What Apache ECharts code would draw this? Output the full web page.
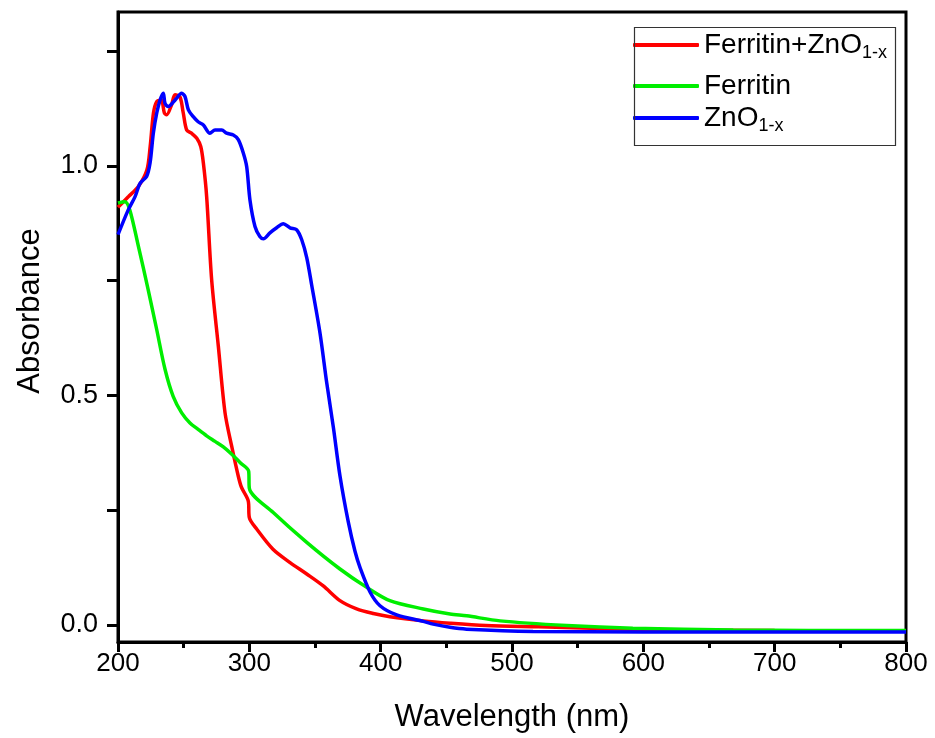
<!DOCTYPE html>
<html>
<head>
<meta charset="utf-8">
<script src="https://cdn.jsdelivr.net/npm/echarts@6/dist/echarts.min.js"></script>
<style>html,body{margin:0;padding:0;background:#fff}#c{width:935px;height:738px}</style>
</head>
<body>
<div id="c"></div>
<script>
// ---------- data ----------
var seriesNames = ['Ferritin+ZnO1-x', 'Ferritin', 'ZnO1-x'];

var redX = [200, 208, 215.5, 222, 224.5, 227, 229.5, 233, 235.3, 237, 240.8, 243.4, 247.2, 249.7, 252.3, 256, 260, 263, 265, 267.5, 271.3, 276.4, 281.5, 286.6, 291.6, 294, 299.2, 300, 305.6, 318, 331, 343.7, 356.3, 369, 381.7, 394.4, 407, 432.5, 452.8, 480, 520, 560, 600, 700, 800];
var redY = [0.91, 0.933, 0.955, 0.991, 1.042, 1.115, 1.14, 1.143, 1.115, 1.111, 1.133, 1.155, 1.15, 1.115, 1.078, 1.071, 1.06, 1.042, 1.006, 0.933, 0.752, 0.607, 0.462, 0.389, 0.324, 0.30, 0.27, 0.234, 0.209, 0.165, 0.136, 0.111, 0.085, 0.053, 0.035, 0.025, 0.018, 0.009, 0.004, -0.001, -0.004, -0.007, -0.010, -0.012, -0.013];

var greenX = [200, 205.3, 209, 215.5, 223, 229.5, 235.8, 242, 248.5, 254.8, 261, 267.5, 273.9, 280.2, 286.6, 292.9, 299.5, 300, 318.2, 343.7, 369, 389.4, 407, 432.5, 452.8, 465.5, 490.9, 541.6, 592, 668.5, 800];
var greenY = [0.919, 0.922, 0.904, 0.825, 0.73, 0.643, 0.557, 0.498, 0.462, 0.44, 0.426, 0.412, 0.40, 0.388, 0.372, 0.354, 0.335, 0.298, 0.245, 0.18, 0.122, 0.082, 0.053, 0.035, 0.024, 0.02, 0.009, -0.001, -0.007, -0.011, -0.012];

var blueX = [200, 207.8, 213, 216.8, 221.8, 224.4, 226.9, 229.5, 232, 234.5, 235.8, 238.3, 243.4, 248.5, 251, 253.6, 257.3, 261, 265, 270, 273.9, 279, 282.7, 287.8, 291.6, 295.4, 298, 300.5, 304.3, 308, 310.7, 315.7, 320.8, 325.9, 331, 336, 339.9, 343.7, 347.5, 353.8, 358.9, 364, 369, 375.3, 380.5, 384.3, 391.9, 399.5, 412.2, 432.5, 440, 452.8, 465.5, 516, 600, 700, 800];
var blueY = [0.85, 0.904, 0.933, 0.962, 0.977, 1.006, 1.071, 1.115, 1.143, 1.158, 1.136, 1.129, 1.143, 1.158, 1.151, 1.122, 1.107, 1.096, 1.089, 1.071, 1.078, 1.078, 1.071, 1.067, 1.057, 1.028, 0.998, 0.925, 0.868, 0.846, 0.841, 0.854, 0.865, 0.874, 0.865, 0.861, 0.839, 0.80, 0.74, 0.636, 0.528, 0.43, 0.325, 0.225, 0.16, 0.125, 0.072, 0.042, 0.022, 0.008, 0.002, -0.005, -0.009, -0.014, -0.015, -0.015, -0.015];

var yTickValues = [0, 0.25, 0.5, 0.75, 1.0, 1.25];
var yLabelValues = [0, 0.5, 1.0];

// ---------- chart ----------
function pairs(xs, ys) { return xs.map(function (x, i) { return [x, ys[i]]; }); }
var colors = ['#ff0000', '#00ee00', '#0000ff'];
var FONT = 'Liberation Sans, Arial, sans-serif';

function legendItem(name, top) {
  return {
    data: [name], orient: 'vertical', left: 633, top: top,
    icon: 'roundRect', itemWidth: 66, itemHeight: 4, itemGap: 0,
    padding: 0,
    selectedMode: false,
    formatter: function (n) { return n.replace('1-x', '{sub|1-x}'); },
    textStyle: {
      fontFamily: FONT, fontSize: 28, color: '#000', padding: [0, 0, 0, 0],
      rich: { sub: { fontFamily: FONT, fontSize: 18, color: '#000', padding: [16, 0, 0, 0] } }
    }
  };
}

var chart = echarts.init(document.getElementById('c'), null, { renderer: 'canvas' });
chart.setOption({
  animation: false,
  backgroundColor: '#fff',
  grid: { left: 118, right: 29, top: 12, bottom: 96, show: true, borderColor: '#000', borderWidth: 3, backgroundColor: 'transparent' },
  legend: [legendItem(seriesNames[0], 31), legendItem(seriesNames[1], 72), legendItem(seriesNames[2], 104)],
  graphic: [{
    type: 'rect', left: 632, top: 25, z: 10,
    shape: { width: 261, height: 118 },
    style: { fill: 'none', stroke: '#333', lineWidth: 1.2 }
  }],
  xAxis: {
    type: 'value', min: 200, max: 800, interval: 100,
    name: 'Wavelength (nm)', nameLocation: 'middle', nameGap: 60,
    nameTextStyle: { fontFamily: FONT, fontSize: 31, color: '#000' },
    axisLine: { show: true, onZero: false, lineStyle: { color: '#000', width: 3 } },
    axisTick: { show: true, length: 10, lineStyle: { color: '#000', width: 3 } },
    minorTick: { show: true, splitNumber: 2, length: 6, lineStyle: { color: '#000', width: 3 } },
    splitLine: { show: false },
    axisLabel: { fontFamily: FONT, fontSize: 26, color: '#000', margin: 9 }
  },
  yAxis: {
    type: 'value', min: -0.037, max: 1.335,
    name: 'Absorbance', nameLocation: 'middle', nameGap: 72,
    nameTextStyle: { fontFamily: FONT, fontSize: 31, color: '#000', padding: [0, 0, 0, 32] },
    axisLine: { show: true, onZero: false, lineStyle: { color: '#000', width: 3 } },
    axisTick: { show: true, length: 11, customValues: yTickValues, lineStyle: { color: '#000', width: 3 } },
    splitLine: { show: false },
    axisLabel: {
      fontFamily: FONT, fontSize: 27, color: '#000', margin: 20,
      customValues: yLabelValues,
      formatter: function (v) { return v.toFixed(1); }
    }
  },
  series: [
    { name: seriesNames[0], type: 'line', data: pairs(redX, redY), showSymbol: false, smooth: 0.3, lineStyle: { color: colors[0], width: 3.5 }, itemStyle: { color: colors[0] } },
    { name: seriesNames[1], type: 'line', data: pairs(greenX, greenY), showSymbol: false, smooth: 0.3, lineStyle: { color: colors[1], width: 3.5 }, itemStyle: { color: colors[1] } },
    { name: seriesNames[2], type: 'line', data: pairs(blueX, blueY), showSymbol: false, smooth: 0.3, lineStyle: { color: colors[2], width: 3.5 }, itemStyle: { color: colors[2] } }
  ]
});
</script>
</body>
</html>
